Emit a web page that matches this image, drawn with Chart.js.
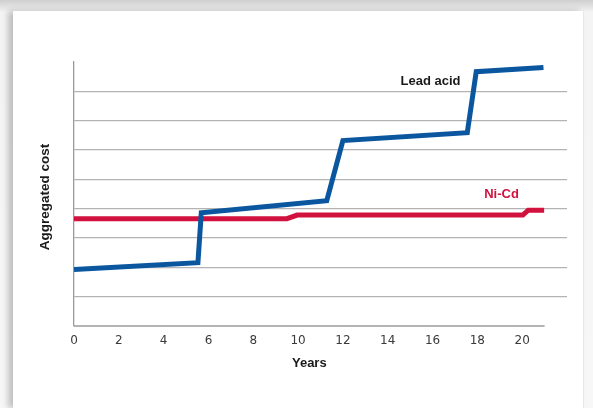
<!DOCTYPE html>
<html>
<head>
<meta charset="utf-8">
<script src="https://cdn.jsdelivr.net/npm/chart.js@4/dist/chart.umd.min.js"></script>
<style>
  html, body { margin:0; padding:0; width:593px; height:408px; overflow:hidden; }
  body { background: linear-gradient(to bottom, #cfcfcf 0px, #e6e6e6 8px, #f4f4f4 12px, #f7f7f7 100%); position:relative; }
  #card { position:absolute; left:13px; top:11px; width:570px; height:397px; background:#fff;
          box-shadow: -5px 0 6px rgba(0,0,0,0.22); border-right:1px solid #e8e8e8; }
  #wrap { position:absolute; left:0; top:0; width:593px; height:408px; }
</style>
</head>
<body>
<div id="card"></div>
<div id="wrap"><canvas id="c" width="593" height="408"></canvas></div>
<script>
// ---- data ----
const leadYears = [0, 5.53, 5.68, 11.28, 12.0, 17.55, 17.95, 20.95];
const leadCost  = [1.93, 2.16, 3.86, 4.27, 6.32, 6.59, 8.67, 8.81];
const nicdYears = [0, 9.5, 9.96, 20.03, 20.27, 20.98];
const nicdCost  = [3.66, 3.66, 3.78, 3.78, 3.95, 3.95];
const xTickLabels = ['0','2','4','6','8','10','12','14','16','18','20'];
const seriesNames = ['Lead acid', 'Ni-Cd'];
const xTitle = 'Years';
const yTitle = 'Aggregated cost';

const BLUE = '#0a57a0';
const RED = '#d1123f';

function pts(xs, ys){ return xs.map((x,i)=>({x:x, y:ys[i]})); }

const labelsPlugin = {
  id: 'labelsPlugin',
  afterDatasetsDraw(chart){
    const {ctx, scales:{x, y}, chartArea} = chart;
    ctx.save();
    // bottom axis line (shorter than gridlines)
    ctx.strokeStyle = '#9a9a9a';
    ctx.lineWidth = 1.3;
    ctx.beginPath();
    ctx.moveTo(x.getPixelForValue(0), y.getPixelForValue(0));
    ctx.lineTo(x.getPixelForValue(21), y.getPixelForValue(0));
    ctx.stroke();
    // series labels
    ctx.font = 'bold 13px "Liberation Sans", Arial, sans-serif';
    ctx.textAlign = 'center';
    ctx.textBaseline = 'middle';
    ctx.fillStyle = '#1a1a1a';
    ctx.fillText(seriesNames[0], x.getPixelForValue(15.91), y.getPixelForValue(8.33));
    ctx.fillStyle = RED;
    ctx.fillText(seriesNames[1], x.getPixelForValue(19.08), y.getPixelForValue(4.47));
    // axis titles
    ctx.fillStyle = '#1a1a1a';
    ctx.fillText(xTitle, (x.getPixelForValue(0) + x.getPixelForValue(21)) / 2, 363);
    ctx.translate(45, (chartArea.top + chartArea.bottom) / 2 + 3);
    ctx.rotate(-Math.PI/2);
    ctx.font = 'bold 13.5px "Liberation Sans", Arial, sans-serif';
    ctx.fillText(yTitle, 0, 0);
    ctx.restore();
  }
};

new Chart(document.getElementById('c'), {
  type: 'line',
  data: {
    datasets: [
      { label: seriesNames[0], data: pts(leadYears, leadCost), borderColor: BLUE, borderWidth: 5,
        pointRadius: 0, tension: 0, borderJoinStyle: 'miter', fill: false },
      { label: seriesNames[1], data: pts(nicdYears, nicdCost), borderColor: RED, borderWidth: 5,
        pointRadius: 0, tension: 0, borderJoinStyle: 'miter', fill: false }
    ]
  },
  options: {
    responsive: false,
    animation: false,
    devicePixelRatio: 1,
    layout: { padding: { left: 0, right: 26, top: 62, bottom: 0 } },
    plugins: { legend: { display: false }, tooltip: { enabled: false } },
    scales: {
      x: {
        type: 'linear', min: 0, max: 22,
        afterFit(s){ s.height = 82; },
        border: { display: false },
        grid: { display: false, drawTicks: false },
        ticks: {
          stepSize: 2, padding: 8, maxRotation: 0, autoSkip: false,
          color: '#3a3a3a',
          font: { family: '"DejaVu Sans", sans-serif', size: 12 },
          callback: (v) => xTickLabels.includes(String(v)) ? String(v) : ''
        }
      },
      y: {
        type: 'linear', min: 0, max: 9,
        afterFit(s){ s.width = 74; },
        border: { display: true, color: '#9a9a9a', width: 1.3 },
        grid: {
          drawTicks: false, lineWidth: 1.2,
          color: (c) => (c.tick && c.tick.value >= 1 && c.tick.value <= 8) ? '#b3b3b3' : 'rgba(0,0,0,0)'
        },
        ticks: { display: false, stepSize: 1 }
      }
    }
  },
  plugins: [labelsPlugin]
});
</script>
</body>
</html>
